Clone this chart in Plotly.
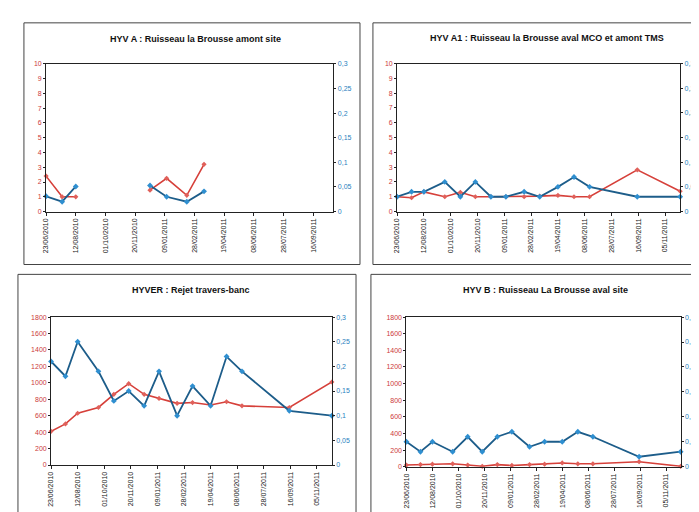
import plotly.graph_objects as go

# ---- data ----
dates = ["2010-06-23", "2010-07-20", "2010-08-12", "2010-09-20", "2010-10-19",
         "2010-11-16", "2010-12-15", "2011-01-12", "2011-02-15", "2011-03-16",
         "2011-04-19", "2011-05-19", "2011-06-17", "2011-09-14", "2011-12-03"]

hyva_red = [2.4, 1.0, 1.0, None, None, None, 1.45, 2.25, 1.1, 3.2, None, None, None, None, None]
hyva_blue = [0.031, 0.020, 0.051, None, None, None, 0.053, 0.030, 0.020, 0.041, None, None, None, None, None]

hyva1_red = [1.0, 0.93, 1.33, 1.0, 1.3, 1.0, 1.0, 1.0, 1.0, 1.04, 1.09, 1.0, 1.0, 2.82, 1.37]
hyva1_blue = [0.03, 0.04, 0.04, 0.06, 0.03, 0.06, 0.03, 0.03, 0.04, 0.03, 0.05, 0.07, 0.05, 0.03, 0.03]

hyver_red = [410, 500, 630, 700, 860, 990, 860, 810, 750, 760, 730, 770, 720, 700, 1010]
hyver_blue = [0.21, 0.18, 0.25, 0.19, 0.13, 0.15, 0.12, 0.19, 0.10, 0.16, 0.12, 0.22, 0.19, 0.11, 0.10]

hyvb_red = [20, 25, 30, 35, 20, 5, 25, 15, 25, 30, 45, 35, 35, 60, 5]
hyvb_blue = [0.05, 0.03, 0.05, 0.03, 0.06, 0.03, 0.06, 0.07, 0.04, 0.05, 0.05, 0.07, 0.06, 0.02, 0.03]

titles = ["HYV A : Ruisseau la Brousse amont site",
          "HYV A1 : Ruisseau la Brousse aval MCO et amont TMS",
          "HYVER : Rejet travers-banc",
          "HYV B : Ruisseau La Brousse aval site"]

right_tickvals = [0, 0.05, 0.1, 0.15, 0.2, 0.25, 0.3]
right_ticktext = ["0", "0,05", "0,1", "0,15", "0,2", "0,25", "0,3"]

x_start = "2010-06-23"
x_end_a = "2011-10-20"
x_end = "2011-12-03"

# ---- style ----
W, H = 699, 512
RED = "#d6403a"
RED_M = "#e0605a"
BLUE = "#1d5d8a"
BLUE_M = "#2f8fd0"
RED_T = "#cc3a3a"
BLUE_T = "#2a7fc0"
FONT = "Liberation Sans"

panels = [
    dict(red=hyva_red, blue=hyva_blue, ymax=10, dt=1, xend=x_end_a,
         px=(34.3, 323.3), py=(52.7, 202.3), box=(12, 11, 350, 256), tx=185, ty=27),
    dict(red=hyva1_red, blue=hyva1_blue, ymax=10, dt=1, xend=x_end,
         px=(387.3, 672.0), py=(52.3, 202.3), box=(363, 11, 698.5, 256), tx=538, ty=26),
    dict(red=hyver_red, blue=hyver_blue, ymax=1800, dt=200, xend=x_end,
         px=(39.3, 321.7), py=(309.3, 459.3), box=(6, 266, 346, 511.5), tx=180, ty=282),
    dict(red=hyvb_red, blue=hyvb_blue, ymax=1800, dt=200, xend=x_end,
         px=(396.7, 672.5), py=(309.3, 461.0), box=(361, 266, 698.5, 511.5), tx=537, ty=282),
]

fig = go.Figure()
layout = {}
shapes = []
annotations = []

for i, p in enumerate(panels):
    xa = "x" if i == 0 else f"x{i+1}"
    ya = f"y{2*i+1}" if i > 0 else "y"
    yb = f"y{2*i+2}"
    xkey = "xaxis" if i == 0 else f"xaxis{i+1}"
    yakey = "yaxis" if i == 0 else f"yaxis{2*i+1}"
    ybkey = f"yaxis{2*i+2}"

    fig.add_trace(go.Scatter(x=dates, y=p["red"], xaxis=xa, yaxis=ya, mode="lines+markers",
                             line=dict(color=RED, width=1.6),
                             marker=dict(color=RED_M, size=4, symbol="diamond"),
                             cliponaxis=False, connectgaps=False, showlegend=False))
    fig.add_trace(go.Scatter(x=dates, y=p["blue"], xaxis=xa, yaxis=yb, mode="lines+markers",
                             line=dict(color=BLUE, width=1.8),
                             marker=dict(color=BLUE_M, size=4.5, symbol="diamond"),
                             cliponaxis=False, connectgaps=False, showlegend=False))

    x0, x1 = p["px"]
    y0, y1 = p["py"]
    dom_x = [x0 / W, x1 / W]
    dom_y = [1 - y1 / H, 1 - y0 / H]

    layout[xkey] = dict(domain=dom_x, anchor=ya, type="date",
                        range=[x_start, p["xend"]], tick0=x_start, dtick=50 * 86400000,
                        tickformat="%d/%m/%Y", tickangle=-90,
                        tickfont=dict(family=FONT, size=7, color="#222"),
                        showgrid=False, zeroline=False,
                        showline=True, linecolor="#222", linewidth=1, mirror=True,
                        ticks="outside", ticklen=3, tickcolor="#222")
    layout[yakey] = dict(domain=dom_y, anchor=xa, range=[0, p["ymax"]], dtick=p["dt"], tick0=0,
                         tickfont=dict(family=FONT, size=7, color=RED_T),
                         showgrid=False, zeroline=False,
                         showline=True, linecolor="#222", linewidth=1,
                         ticks="outside", ticklen=2, tickcolor="#222")
    layout[ybkey] = dict(overlaying=ya, side="right", anchor=xa, range=[0, 0.3],
                         tickvals=right_tickvals, ticktext=right_ticktext,
                         tickfont=dict(family=FONT, size=7, color=BLUE_T),
                         showgrid=False, zeroline=False,
                         showline=True, linecolor="#222", linewidth=1,
                         ticks="outside", ticklen=2, tickcolor="#222")

    bx0, by0, bx1, by1 = p["box"]
    shapes.append(dict(type="rect", xref="paper", yref="paper",
                       x0=bx0 / W, x1=bx1 / W, y0=1 - by1 / H, y1=1 - by0 / H,
                       line=dict(color="#444", width=1)))
    annotations.append(dict(text="<b>" + titles[i] + "</b>", xref="paper", yref="paper",
                            x=p["tx"] / W, y=1 - p["ty"] / H, showarrow=False,
                            xanchor="center", yanchor="middle",
                            font=dict(family=FONT, size=9, color="#111")))

fig.update_layout(width=W, height=H, margin=dict(l=0, r=0, t=0, b=0),
                  paper_bgcolor="white", plot_bgcolor="white",
                  shapes=shapes, annotations=annotations, **layout)

fig.write_html("out.html")
